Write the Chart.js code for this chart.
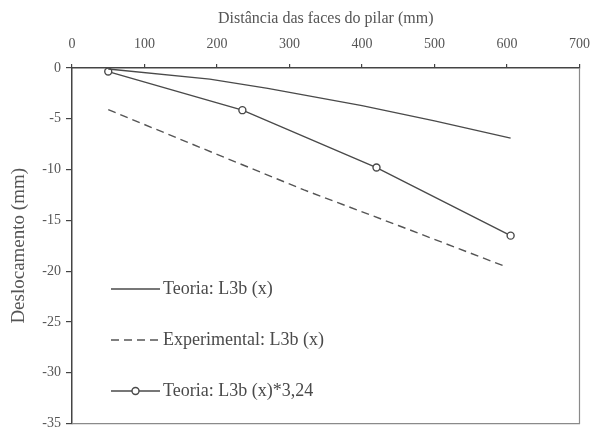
<!DOCTYPE html>
<html lang="pt">
<head>
  <meta charset="UTF-8">
  <title>Deslocamento L3b</title>
  <script src="https://cdn.jsdelivr.net/npm/chart.js@4"></script>
  <style>
    html, body { margin: 0; padding: 0; background: #fff; }
    #wrap { width: 601px; height: 437px; }
  </style>
</head>
<body>
  <div id="wrap"><canvas id="grafico"></canvas></div>
  <script>
    // valores
    const teoriaX = [50, 190, 270, 400, 500, 605];
    const teoriaY = [-0.1, -1.1, -2.0, -3.7, -5.2, -6.9];

    const experimentalX = [50, 200, 320, 450, 600];
    const experimentalY = [-4.1, -8.5, -12.0, -15.5, -19.6];

    const teoriaFatorX = [50, 235, 420, 605];
    const teoriaFatorY = [-0.35, -4.15, -9.8, -16.5];

    const xTicks = [0, 100, 200, 300, 400, 500, 600, 700];
    const yTicks = [0, -5, -10, -15, -20, -25, -30, -35];

    const legendas = ['Teoria: L3b (x)', 'Experimental: L3b (x)', 'Teoria: L3b (x)*3,24'];

    const pts = (xs, ys) => xs.map((x, i) => ({ x: x, y: ys[i] }));
    const corLinha = '#4a4a4a';
    const fonte = 'Liberation Serif, Times New Roman, serif';

    // moldura e legenda dentro da área do gráfico
    const moldura = {
      id: 'moldura',
      beforeDatasetsDraw(chart) {
        const { ctx, chartArea: a } = chart;
        ctx.save();
        ctx.strokeStyle = '#8a8a8a';
        ctx.lineWidth = 1.2;
        ctx.beginPath();
        ctx.moveTo(a.right, a.top);
        ctx.lineTo(a.right, a.bottom);
        ctx.lineTo(a.left, a.bottom);
        ctx.stroke();
        ctx.restore();
      },
      afterDatasetsDraw(chart) {
        const { ctx, chartArea: a } = chart;
        const linhas = [a.top + 221, a.top + 272, a.top + 323];
        ctx.save();
        chart.data.datasets.forEach((ds, i) => {
          const y = linhas[i];
          const x0 = a.left + 39, x1 = a.left + 88;
          ctx.strokeStyle = ds.borderColor;
          ctx.lineWidth = ds.borderWidth;
          ctx.setLineDash(ds.borderDash || []);
          ctx.beginPath();
          ctx.moveTo(x0, y);
          ctx.lineTo(x1, y);
          ctx.stroke();
          ctx.setLineDash([]);
          if (ds.pointRadius > 0) {
            ctx.beginPath();
            ctx.arc((x0 + x1) / 2, y, ds.pointRadius, 0, Math.PI * 2);
            ctx.fillStyle = '#fff';
            ctx.fill();
            ctx.lineWidth = ds.pointBorderWidth;
            ctx.stroke();
          }
          ctx.fillStyle = '#4a4a4a';
          ctx.font = '18px ' + fonte;
          ctx.textBaseline = 'middle';
          ctx.textAlign = 'left';
          ctx.fillText(legendas[i], x1 + 3, y);
        });
        ctx.restore();
      }
    };

    new Chart(document.getElementById('grafico'), {
      type: 'line',
      data: {
        datasets: [
          {
            label: legendas[0],
            data: pts(teoriaX, teoriaY),
            borderColor: corLinha,
            borderWidth: 1.4,
            pointRadius: 0
          },
          {
            label: legendas[1],
            data: pts(experimentalX, experimentalY),
            borderColor: '#555',
            borderWidth: 1.4,
            borderDash: [8, 5],
            pointRadius: 0
          },
          {
            label: legendas[2],
            data: pts(teoriaFatorX, teoriaFatorY),
            borderColor: corLinha,
            borderWidth: 1.4,
            pointRadius: 3.5,
            pointBorderWidth: 1.4,
            pointBackgroundColor: '#fff',
            pointBorderColor: corLinha
          }
        ]
      },
      options: {
        responsive: true,
        maintainAspectRatio: false,
        animation: false,
        layout: { padding: { top: 0, left: 0, right: 11, bottom: 11 } },
        plugins: {
          legend: { display: false },
          tooltip: { enabled: false }
        },
        scales: {
          x: {
            type: 'linear',
            position: 'top',
            min: 0,
            max: 700,
            afterFit(s) { s.height = 68; },
            afterBuildTicks(s) { s.ticks = xTicks.map(v => ({ value: v })); },
            border: { color: '#444', width: 1.5 },
            grid: { drawOnChartArea: false, tickLength: 4, color: '#444', lineWidth: 1.2 },
            ticks: { padding: 11, color: '#555', font: { family: fonte, size: 14 } },
            title: {
              display: true,
              text: 'Distância das faces do pilar (mm)',
              color: '#555',
              padding: { top: 9, bottom: 0 },
              font: { family: fonte, size: 16 }
            }
          },
          y: {
            type: 'linear',
            min: -35,
            max: 0,
            afterFit(s) { s.width = 72; },
            afterBuildTicks(s) { s.ticks = yTicks.map(v => ({ value: v })); },
            border: { color: '#444', width: 1.5 },
            grid: { drawOnChartArea: false, tickLength: 6, color: '#444', lineWidth: 1.2 },
            ticks: { padding: 5, color: '#555', font: { family: fonte, size: 14 } },
            title: {
              display: true,
              text: 'Deslocamento (mm)',
              color: '#555',
              padding: { top: 8, bottom: 0 },
              font: { family: fonte, size: 19 }
            }
          }
        }
      },
      plugins: [moldura]
    });
  </script>
</body>
</html>
